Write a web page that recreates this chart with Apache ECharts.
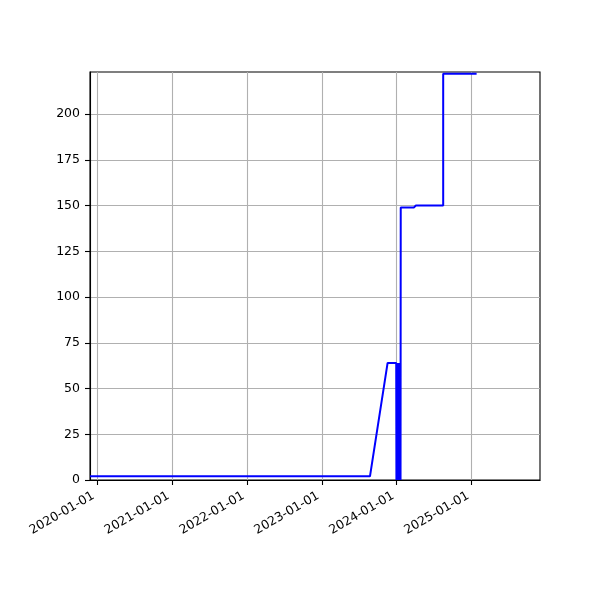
<!DOCTYPE html>
<html>
<head>
<meta charset="utf-8">
<script src="https://cdn.jsdelivr.net/npm/echarts@6/dist/echarts.min.js"></script>
<style>html,body{margin:0;padding:0;background:#fff}#c{width:600px;height:600px}</style>
</head>
<body>
<div id="c"></div>
<script>
// Data
var dates = [
  '2019-11-28', '2023-08-24', '2023-11-18', '2023-12-30',
  '2023-12-31', '2024-01-01', '2024-01-02', '2024-01-03', '2024-01-04', '2024-01-05',
  '2024-01-06', '2024-01-07', '2024-01-08', '2024-01-09', '2024-01-10', '2024-01-11',
  '2024-01-12', '2024-01-13', '2024-01-14', '2024-01-15', '2024-01-16', '2024-01-17',
  '2024-01-18', '2024-01-19', '2024-01-20', '2024-01-21', '2024-01-21',
  '2024-03-25', '2024-04-04', '2024-08-15', '2024-08-15', '2025-01-25'
];
var values = [
  2, 2, 64, 64,
  0, 64, 0, 64, 0, 64,
  0, 64, 0, 64, 0, 64,
  0, 64, 0, 64, 0, 64,
  0, 64, 0, 0, 149,
  149, 150, 150, 222, 222
];
var xTickLabels = ['2020-01-01', '2021-01-01', '2022-01-01', '2023-01-01', '2024-01-01', '2025-01-01'];
var yTickValues = [0, 25, 50, 75, 100, 125, 150, 175, 200];
var xRange = ['2019-11-28', '2025-11-30'];
var yRange = [0, 223];

function ts(s) { var p = s.split('-'); return Date.UTC(+p[0], +p[1] - 1, +p[2]); }
function fmt(v) {
  var d = new Date(v);
  var m = d.getUTCMonth() + 1, dd = d.getUTCDate();
  return d.getUTCFullYear() + '-' + (m < 10 ? '0' : '') + m + '-' + (dd < 10 ? '0' : '') + dd;
}
var xTicks = xTickLabels.map(ts);
var seriesData = dates.map(function (d, i) { return [ts(d), values[i]]; });
var font = 'DejaVu Sans';

var chart = echarts.init(document.getElementById('c'), null, { renderer: 'canvas' });
chart.setOption({
  animation: false,
  grid: { left: 90, right: 60, top: 72, bottom: 120, show: true, borderColor: '#000', borderWidth: 1.1, backgroundColor: 'transparent' },
  xAxis: {
    type: 'value',
    min: ts(xRange[0]), max: ts(xRange[1]),
    axisLine: { show: true, lineStyle: { color: '#000', width: 1.1 } },
    axisTick: { show: true, inside: false, length: 5, lineStyle: { color: '#000', width: 1.1 }, customValues: xTicks },
    axisLabel: {
      customValues: xTicks,
      rotate: 30, margin: 13, padding: [0, 4, 0, 0], color: '#000', fontFamily: font, fontSize: 12.5,
      formatter: fmt
    },
    splitLine: { show: true, lineStyle: { color: '#b0b0b0', width: 1.1 } }
  },
  yAxis: {
    type: 'value',
    min: yRange[0], max: yRange[1],
    axisLine: { show: true, lineStyle: { color: '#000', width: 1.1 } },
    axisTick: { show: true, inside: false, length: 5, lineStyle: { color: '#000', width: 1.1 }, customValues: yTickValues },
    axisLabel: { customValues: yTickValues, margin: 10, color: '#000', fontFamily: font, fontSize: 12.5 },
    splitLine: { show: true, lineStyle: { color: '#b0b0b0', width: 1.1 } }
  },
  series: [{
    type: 'line',
    data: seriesData,
    showSymbol: false,
    symbol: 'none',
    lineStyle: { color: '#0000ff', width: 2 },
    clip: true
  }]
});
</script>
</body>
</html>
